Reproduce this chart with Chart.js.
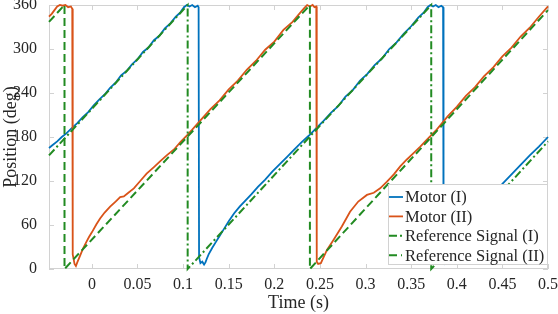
<!DOCTYPE html>
<html>
<head>
<meta charset="utf-8">
<script src="https://cdn.jsdelivr.net/npm/chart.js@4.4.1/dist/chart.umd.min.js"></script>
<style>
  html, body { margin: 0; padding: 0; background: #fff; }
</style>
</head>
<body>
<canvas id="chartId" width="558" height="314"></canvas>
<script>
// values (time in s, position in deg)
const seriesNames = ["Motor (I)", "Motor (II)", "Reference Signal (I)", "Reference Signal (II)"];

const motor1Time = [-0.047, -0.043, -0.038, -0.033, -0.028, -0.022, -0.016, -0.010, -0.004, 0.002,
  0.008, 0.014, 0.020, 0.026, 0.032, 0.038, 0.044, 0.050, 0.056, 0.062, 0.068, 0.074, 0.080, 0.086,
  0.092, 0.097, 0.101, 0.104, 0.107, 0.110, 0.113, 0.116, 0.117, 0.1175, 0.119, 0.121, 0.123, 0.1245,
  0.126, 0.128, 0.132, 0.136, 0.140, 0.144, 0.150, 0.156, 0.162, 0.168, 0.175, 0.182, 0.190, 0.198,
  0.206, 0.214, 0.222, 0.230, 0.238, 0.246, 0.254, 0.262, 0.270, 0.278, 0.286, 0.294, 0.302, 0.310,
  0.318, 0.326, 0.334, 0.342, 0.350, 0.358, 0.364, 0.368, 0.371, 0.374, 0.377, 0.380, 0.383, 0.385,
  0.3855, 0.387, 0.390, 0.392, 0.395, 0.400, 0.405, 0.410, 0.415, 0.420, 0.430, 0.440, 0.450, 0.460,
  0.470, 0.480, 0.490, 0.500];
const motor1Pos = [165, 169, 174, 180, 185, 192, 199, 207, 214, 223,
  231, 238, 247, 254, 264, 270, 279, 286, 296, 302, 312, 318, 328, 335,
  344, 350, 357, 360, 358, 360, 357, 359, 357, 16, 8, 10, 6, 9,
  14, 20, 29, 37, 45, 53, 65, 76, 85, 93, 102, 112, 122, 133,
  143, 153, 163, 173, 182, 192, 202, 213, 222, 235, 244, 257, 266, 278,
  287, 300, 309, 321, 331, 343, 350, 357, 360, 358, 360, 357, 359, 357,
  14, 7, 9, 8, 15, 27, 39, 50, 61, 72, 88, 102, 116, 129,
  142, 155, 167, 180];

const motor2Time = [-0.047, -0.044, -0.041, -0.038, -0.035, -0.032, -0.029, -0.026, -0.023, -0.0215,
  -0.021, -0.019, -0.0175, -0.016, -0.013, -0.010, -0.006, -0.003, 0.000, 0.005, 0.009, 0.014, 0.020,
  0.026, 0.031, 0.035, 0.040, 0.046, 0.053, 0.060, 0.068, 0.075, 0.082, 0.090, 0.097, 0.104, 0.110,
  0.120, 0.130, 0.140, 0.150, 0.160, 0.170, 0.180, 0.190, 0.200, 0.210, 0.220, 0.228, 0.233, 0.236,
  0.239, 0.242, 0.244, 0.246, 0.2465, 0.248, 0.251, 0.2577, 0.265, 0.274, 0.283, 0.292, 0.3015, 0.309,
  0.316, 0.3235, 0.331, 0.338, 0.345, 0.3526, 0.360, 0.367, 0.378, 0.390, 0.400, 0.410, 0.420, 0.430,
  0.440, 0.450, 0.460, 0.470, 0.480, 0.490, 0.500];
const motor2Pos = [344, 348, 353, 358, 360, 359, 360, 357, 358, 355,
  20, 7, 4, 9, 18, 27, 37, 44, 50, 61, 69, 77, 85,
  92, 98, 99, 104, 110, 120, 130, 139, 147, 155, 163, 173, 182, 190,
  204, 218, 230, 245, 257, 272, 284, 299, 310, 326, 337, 349, 356, 360,
  358, 360, 357, 358, 10, 7, 8, 26, 40, 58, 78, 92, 101, 104,
  110, 119, 129, 140, 149, 158, 167, 176, 190, 208, 221, 236, 248, 263,
  275, 290, 302, 317, 329, 344, 358];

const ref1Time = [-0.047, 0.105, 0.105, 0.372, 0.372, 0.5];
const ref1Pos = [155, 360, 0, 360, 0, 174];

const ref2Time = [-0.047, -0.030, -0.030, 0.239, 0.239, 0.5];
const ref2Pos = [337, 360, 0, 360, 0, 353];

const xTicks = [0, 0.05, 0.1, 0.15, 0.2, 0.25, 0.3, 0.35, 0.4, 0.45, 0.5];
const yTicks = [0, 60, 120, 180, 240, 300, 360];

const serif = 'Liberation Serif';
const textColor = '#262626';
const boxColor = '#d2d2d2';

function toPoints(ts, vs) {
    return ts.map((t, i) => ({x: t, y: vs[i]}));
}

// box round the plot with small inward ticks on all four sides
const frame = {
    id: 'frame',
    beforeDatasetsDraw(chart) {
        const {ctx, chartArea: a, scales: {x, y}} = chart;
        ctx.save();
        ctx.strokeStyle = boxColor;
        ctx.lineWidth = 1;
        ctx.strokeRect(a.left + 0.5, a.top + 0.5, a.width - 1, a.height - 1);
        ctx.beginPath();
        x.ticks.forEach(t => {
            const px = Math.round(x.getPixelForValue(t.value)) + 0.5;
            ctx.moveTo(px, a.bottom); ctx.lineTo(px, a.bottom - 5);
            ctx.moveTo(px, a.top); ctx.lineTo(px, a.top + 5);
        });
        y.ticks.forEach(t => {
            const py = Math.round(y.getPixelForValue(t.value)) + 0.5;
            ctx.moveTo(a.left, py); ctx.lineTo(a.left + 5, py);
            ctx.moveTo(a.right, py); ctx.lineTo(a.right - 5, py);
        });
        ctx.stroke();
        ctx.restore();
    }
};

// legend box in the lower right corner of the plot
const boxLegend = {
    id: 'boxLegend',
    afterDatasetsDraw(chart) {
        const {ctx, chartArea: a} = chart;
        const sets = chart.data.datasets;
        ctx.save();
        ctx.font = '16.5px "' + serif + '"';
        const textW = Math.max(...sets.map(d => ctx.measureText(d.label).width));
        const w = Math.round(textW + 20), h = 80;
        const right = a.right - 1, bottom = a.bottom - 5;
        const left = right - w, top = bottom - h;
        ctx.fillStyle = '#fff';
        ctx.fillRect(left, top, w, h);
        ctx.strokeStyle = boxColor;
        ctx.lineWidth = 1;
        ctx.strokeRect(left + 0.5, top + 0.5, w, h);
        sets.forEach((d, i) => {
            const yy = top + 13 + i * 19.4;
            ctx.strokeStyle = d.borderColor;
            ctx.lineWidth = d.borderWidth;
            ctx.setLineDash(d.borderDash || []);
            ctx.beginPath();
            ctx.moveTo(left + 1, yy);
            ctx.lineTo(left + (d.borderDash ? 14 : 15), yy);
            ctx.stroke();
            ctx.setLineDash([]);
            ctx.fillStyle = textColor;
            ctx.textBaseline = 'middle';
            ctx.fillText(d.label, left + 17, yy + 1);
        });
        ctx.restore();
    }
};

const chrt = document.getElementById('chartId').getContext('2d');
const chartId = new Chart(chrt, {
    type: 'line',
    data: {
        datasets: [
            {label: seriesNames[0], data: toPoints(motor1Time, motor1Pos), borderColor: '#0072BD', borderWidth: 1.8, order: 4},
            {label: seriesNames[1], data: toPoints(motor2Time, motor2Pos), borderColor: '#D95319', borderWidth: 1.8, order: 3},
            {label: seriesNames[2], data: toPoints(ref1Time, ref1Pos), borderColor: '#228B22', borderWidth: 2, borderDash: [8, 3, 2, 3], order: 2},
            {label: seriesNames[3], data: toPoints(ref2Time, ref2Pos), borderColor: '#228B22', borderWidth: 2, borderDash: [8, 4], order: 1}
        ]
    },
    options: {
        responsive: false,
        animation: false,
        layout: {padding: {top: 5, right: 10, left: 0, bottom: 0}},
        elements: {point: {radius: 0}, line: {tension: 0, fill: false}},
        datasets: {line: {clip: 4}},
        plugins: {legend: {display: false}, tooltip: {enabled: false}},
        scales: {
            x: {
                type: 'linear', min: -0.047, max: 0.5,
                afterBuildTicks: s => { s.ticks = xTicks.map(v => ({value: v})); },
                afterFit: s => { s.height = 45; s.paddingLeft = 0; s.paddingRight = 0; },
                grid: {display: false, drawTicks: false},
                border: {display: false},
                ticks: {
                    font: {family: serif, size: 16}, color: textColor, padding: 6,
                    maxRotation: 0, autoSkip: false, callback: v => String(v)
                },
                title: {display: true, text: 'Time (s)', font: {family: serif, size: 18}, color: textColor, padding: 0}
            },
            y: {
                type: 'linear', min: 0, max: 360,
                afterBuildTicks: s => { s.ticks = yTicks.map(v => ({value: v})); },
                afterFit: s => { s.width = 49; s.paddingTop = 0; s.paddingBottom = 0; },
                grid: {display: false, drawTicks: false},
                border: {display: false},
                ticks: {font: {family: serif, size: 16}, color: textColor, padding: 12, autoSkip: false},
                title: {display: true, text: 'Position (deg)', font: {family: serif, size: 18}, color: textColor, padding: 0}
            }
        }
    },
    plugins: [frame, boxLegend]
});
</script>
</body>
</html>
